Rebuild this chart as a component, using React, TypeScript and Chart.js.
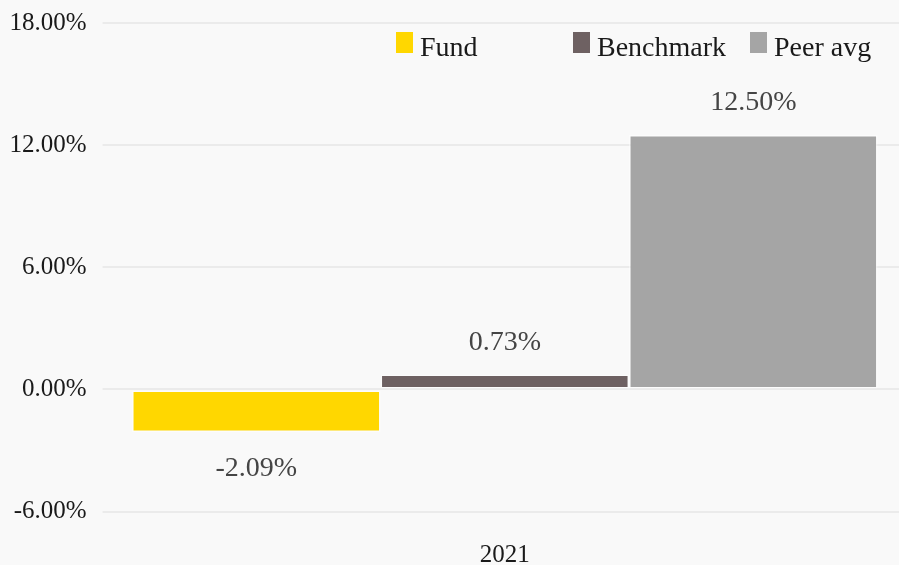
import React, { useEffect, useRef } from "react";
import { Chart, registerables } from "chart.js";

Chart.register(...registerables);

const categories = ["2021"];
const seriesNames = ["Fund", "Benchmark", "Peer avg"];
const fundValues = [-2.09];
const benchmarkValues = [0.73];
const peerValues = [12.5];
const seriesColors = ["#FFD700", "#6E6162", "#A5A5A5"];
const yMin = -6;
const yMax = 18;
const yStep = 6;

const FONT = "'Liberation Serif', 'Times New Roman', serif";
const BG = "#f9f9f9";

const fmt = (v: number) => v.toFixed(2) + "%";

const dataLabelPlugin = {
  id: "dataLabels",
  afterDatasetsDraw(chart: any) {
    const ctx = chart.ctx;
    ctx.save();
    ctx.font = `28px ${FONT}`;
    ctx.fillStyle = "#454545";
    ctx.textAlign = "center";
    ctx.textBaseline = "middle";
    chart.data.datasets.forEach((ds: any, i: number) => {
      const meta = chart.getDatasetMeta(i);
      meta.data.forEach((bar: any, j: number) => {
        const v = ds.data[j];
        const y = v >= 0 ? bar.y - 32 : bar.y + 37;
        ctx.fillText(fmt(v), bar.x, y);
      });
    });
    ctx.restore();
  },
};

const legendPlugin = {
  id: "customLegend",
  afterDraw(chart: any) {
    const ctx = chart.ctx;
    ctx.save();
    ctx.font = `28px ${FONT}`;
    ctx.textBaseline = "alphabetic";
    ctx.textAlign = "left";
    const colW = 177;
    const startX = chart.width - 503;
    chart.data.datasets.forEach((ds: any, i: number) => {
      const x = startX + i * colW;
      ctx.fillStyle = ds.backgroundColor;
      ctx.fillRect(x, 32, 17, 21);
      ctx.fillStyle = "#1a1a1a";
      ctx.fillText(ds.label, x + 24, 56);
    });
    ctx.restore();
  },
};

export default function App() {
  const ref = useRef<HTMLCanvasElement>(null);
  useEffect(() => {
    if (!ref.current) return;
    const seriesValues = [fundValues, benchmarkValues, peerValues];
    const chart = new Chart(ref.current, {
      type: "bar",
      data: {
        labels: categories,
        datasets: seriesNames.map((name, i) => ({
          label: name,
          data: seriesValues[i],
          backgroundColor: seriesColors[i],
          borderColor: "rgba(255,255,255,0.55)",
          borderWidth: 1.5,
          borderSkipped: false,
          categoryPercentage: 0.9456,
          barPercentage: 1,
        })),
      },
      options: {
        animation: false,
        responsive: true,
        maintainAspectRatio: false,
        layout: { padding: { top: 23, right: 0, bottom: 0, left: 0 } },
        plugins: {
          legend: { display: false },
          tooltip: { enabled: false },
        },
        scales: {
          x: {
            grid: { display: false },
            border: { display: false },
            ticks: {
              font: { family: FONT, size: 25 },
              color: "#1a1a1a",
              padding: 21,
            },
            afterFit: (s: any) => {
              s.height = 53.5;
              s.paddingLeft = 0;
              s.paddingRight = 0;
            },
          },
          y: {
            min: yMin,
            max: yMax,
            grid: { color: "#ebebeb", lineWidth: 2, tickLength: 8 },
            border: { display: false },
            ticks: {
              stepSize: yStep,
              font: { family: FONT, size: 25 },
              color: "#1a1a1a",
              padding: 16,
              callback: (v: any) => fmt(Number(v)),
            },
            afterFit: (s: any) => {
              s.width = 110.6;
              s.paddingTop = 0;
              s.paddingBottom = 0;
            },
          },
        },
      },
      plugins: [dataLabelPlugin, legendPlugin],
    });
    return () => chart.destroy();
  }, []);
  return (
    <div style={{ position: "fixed", inset: 0, background: BG }}>
      <canvas ref={ref} />
    </div>
  );
}
